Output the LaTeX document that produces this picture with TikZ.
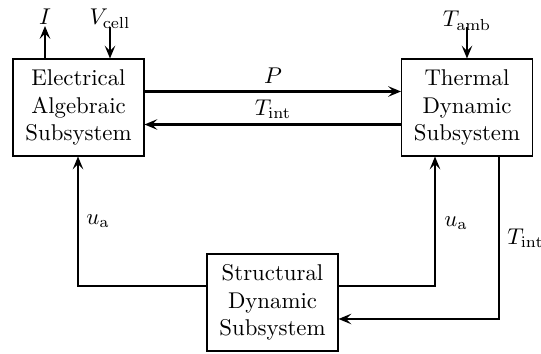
\documentclass[tikz,border=0pt]{standalone}
\usetikzlibrary{arrows.meta}
\begin{document}
\begin{tikzpicture}[x=0.4386pt,y=-0.4386pt,
  blk/.style={draw,line width=0.45pt,minimum width=131*0.4386pt,minimum height=97*0.4386pt,align=center,inner sep=0pt},
  flow/.style={line width=0.9pt,-{Stealth[length=5.6pt,width=4.6pt,inset=2.2pt]}},
  lbl/.style={inner sep=0pt}]
\useasboundingbox (0,0) rectangle (541,354);
\node[blk] (E) at (78.5,107.5) {Electrical\\Algebraic\\Subsystem};
\node[blk] (T) at (467,107.5) {Thermal\\Dynamic\\Subsystem};
\node[blk] (S) at (272.5,302.5) {Structural\\Dynamic\\Subsystem};
% P and Tint between E and T
\coordinate (pa) at (144,91.5);
\draw[flow] (E.east |- pa) -- (T.west |- pa);
\node[lbl] (lP) at (273,76) {$P$};
\coordinate (ta) at (402,124.5);
\draw[flow] (T.west |- ta) -- (E.east |- ta);
\node[lbl] (lT) at (273,109) {$T_{\mathrm{int}}$};
% I and Vcell
\coordinate (Itop) at (45,26);
\draw[flow] (E.north -| Itop) -- (Itop);
\node[lbl,anchor=base] (lI) at (45,25) {$I$};
\coordinate (Vtop) at (110,27);
\draw[flow] (Vtop) -- (E.north -| Vtop);
\node[lbl,anchor=base] (lV) at (110,25) {$V_{\mathrm{cell}}$};
% Tamb
\coordinate (Atop) at (467,27);
\draw[flow] (Atop) -- (T.north -| Atop);
\node[lbl,anchor=base] (lA) at (467,27) {$T_{\mathrm{amb}}$};
% u_a left
\coordinate (cl) at (78,286);
\draw[flow] (S.west |- cl) -- (cl) -- (E.south -| cl);
\node[lbl] (lu1) at (98,221) {$u_{\mathrm{a}}$};
% u_a right
\coordinate (cr) at (435,286);
\draw[flow] (S.east |- cr) -- (cr) -- (T.south -| cr);
\node[lbl] (lu2) at (456,223) {$u_{\mathrm{a}}$};
% Tint right
\coordinate (cd) at (499,319);
\draw[flow] (T.south -| cd) -- (cd) -- (S.east |- cd);
\node[lbl,anchor=west] (lT2) at (507,238) {$T_{\mathrm{int}}$};
\end{tikzpicture}
\end{document}
